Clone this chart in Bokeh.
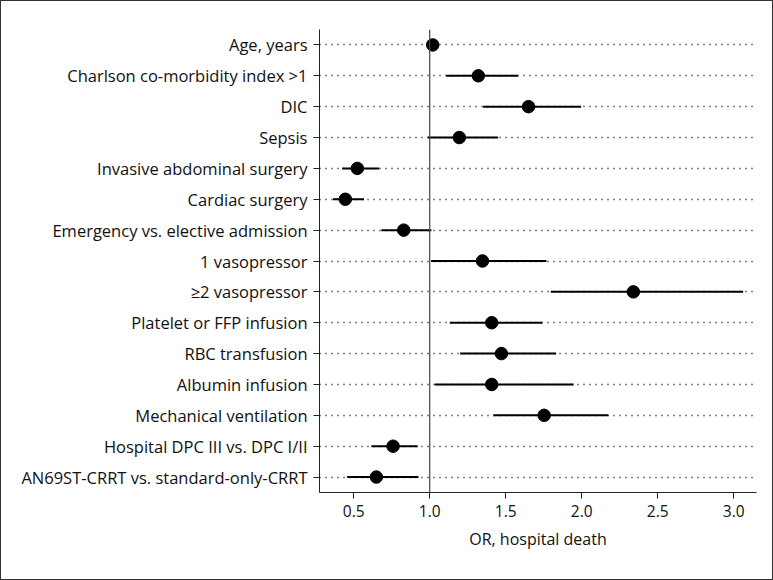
from bokeh.plotting import figure
from bokeh.models import FactorRange, Range1d, Span, ColumnDataSource, FixedTicker
from bokeh.embed import file_html
from bokeh.resources import INLINE

labels = [
    "Age, years",
    "Charlson co-morbidity index >1",
    "DIC",
    "Sepsis",
    "Invasive abdominal surgery",
    "Cardiac surgery",
    "Emergency vs. elective admission",
    "1 vasopressor",
    "\u22652 vasopressor",
    "Platelet or FFP infusion",
    "RBC transfusion",
    "Albumin infusion",
    "Mechanical ventilation",
    "Hospital DPC III vs. DPC I/II",
    "AN69ST-CRRT vs. standard-only-CRRT",
]
odds_ratio = [1.02, 1.32, 1.65, 1.195, 0.524, 0.445, 0.829, 1.347, 2.34, 1.408, 1.472, 1.408, 1.753, 0.759, 0.649]
ci_low = [1.01, 1.108, 1.351, 0.987, 0.424, 0.364, 0.682, 1.009, 1.796, 1.132, 1.2, 1.033, 1.419, 0.616, 0.457]
ci_high = [1.03, 1.582, 1.996, 1.45, 0.667, 0.568, 1.011, 1.768, 3.062, 1.741, 1.832, 1.947, 2.176, 0.921, 0.926]
x_ticks = [0.5, 1.0, 1.5, 2.0, 2.5, 3.0]
x_tick_labels = ["0.5", "1.0", "1.5", "2.0", "2.5", "3.0"]

src = ColumnDataSource(dict(label=labels, orv=odds_ratio, lo=ci_low, hi=ci_high))

FONT = "Open Sans"
TXT = "#111111"

p = figure(
    y_range=FactorRange(factors=list(reversed(labels)), range_padding=0),
    x_range=Range1d(0.275, 3.15),
    width=771, height=578,
    frame_width=437, frame_height=463,
    min_border_left=318, min_border_top=28, min_border_right=16, min_border_bottom=87,
    output_backend="svg", toolbar_location=None,
)
p.styles = {"border": "1px solid #333", "box-sizing": "border-box"}
p.outline_line_color = None
p.background_fill_color = "white"
p.border_fill_color = "white"

p.xgrid.visible = False
p.ygrid.grid_line_color = "black"
p.ygrid.grid_line_dash = "1 5"
p.ygrid.grid_line_width = 1.4

p.add_layout(Span(location=1.0, dimension="height", line_color="#444444", line_width=1.2))

p.segment(x0="lo", x1="hi", y0="label", y1="label", source=src, line_color="black", line_width=2)
p.scatter(x="orv", y="label", source=src, size=12.5, fill_color="black", line_color="black")

p.xaxis.ticker = FixedTicker(ticks=x_ticks)
p.xaxis.major_label_overrides = {t: s for t, s in zip(x_ticks, x_tick_labels)}
p.xaxis.minor_tick_line_color = None
p.xaxis.major_tick_out = 6
p.xaxis.major_tick_in = 0
p.xaxis.axis_label = "OR, hospital death"
p.xaxis.axis_label_text_font_style = "normal"
p.xaxis.axis_label_text_font = FONT
p.xaxis.axis_label_text_font_size = "16px"
p.xaxis.axis_label_text_color = TXT
p.xaxis.axis_label_standoff = 8
p.xaxis.major_label_text_font = FONT
p.xaxis.major_label_text_font_size = "15.5px"
p.xaxis.major_label_text_color = TXT
p.xaxis.major_label_standoff = 6

p.yaxis.major_tick_out = 6
p.yaxis.major_tick_in = 0
p.yaxis.major_label_text_font = FONT
p.yaxis.major_label_text_font_size = "16.5px"
p.yaxis.major_label_text_color = TXT
p.yaxis.major_label_standoff = 6

for ax in (p.xaxis, p.yaxis):
    ax.axis_line_color = "#222222"
    ax.major_tick_line_color = "#222222"

open("out.html", "w").write(file_html(p, INLINE))
